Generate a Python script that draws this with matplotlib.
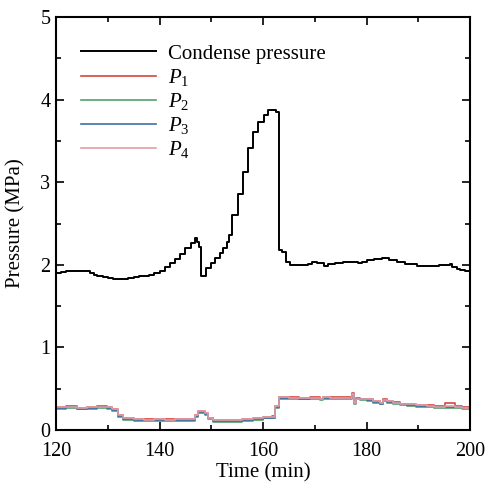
import numpy as np
import matplotlib
matplotlib.use("Agg")
import matplotlib.pyplot as plt

plt.rcParams['font.family'] = ['Liberation Serif', 'DejaVu Serif']
plt.rcParams['mathtext.fontset'] = 'custom'
plt.rcParams['mathtext.rm'] = 'Liberation Serif'
plt.rcParams['mathtext.it'] = 'Liberation Serif:italic'

# condense pressure (stepwise logging)
t_cond = [120, 121, 122, 123, 124, 125, 125.8, 126.5, 127.3, 128, 129, 130, 131, 132, 133,
          134, 135, 136, 137, 138, 139, 140, 141, 142, 143, 144, 145, 146, 146.8, 147.2,
          147.6, 148, 149, 150, 150.8, 151.6, 152.3, 153, 153.5, 154, 155.2, 156.2, 157,
          158.1, 159.1, 160.1, 161, 162, 162.6, 163, 163.7, 164.4, 165.2, 167.8, 168.6,
          169.4, 170.4, 171.7, 172.6, 174, 175.5, 176.8, 178.4, 179.2, 180, 181.5, 182.9,
          184.3, 185.8, 187.5, 189.7, 192, 194, 196.1, 196.6, 197.4, 198.1, 199, 200]
p_cond = [1.90, 1.91, 1.92, 1.93, 1.93, 1.93, 1.92, 1.90, 1.88, 1.87, 1.85, 1.84, 1.83, 1.83, 1.83,
          1.84, 1.85, 1.86, 1.87, 1.88, 1.90, 1.93, 1.97, 2.02, 2.07, 2.13, 2.20, 2.26, 2.33, 2.28,
          2.22, 1.86, 1.96, 2.02, 2.08, 2.14, 2.20, 2.28, 2.36, 2.60, 2.86, 3.13, 3.41,
          3.61, 3.73, 3.81, 3.87, 3.88, 3.85, 2.18, 2.15, 2.03, 2.00, 2.00, 2.01,
          2.03, 2.02, 1.99, 2.01, 2.02, 2.03, 2.04, 2.02, 2.04, 2.06, 2.07, 2.08,
          2.06, 2.03, 2.01, 1.99, 1.99, 2.00, 2.01, 1.97, 1.95, 1.94, 1.92, 1.92]

# P1..P4
t_p = [120, 122, 124, 126, 128, 129.8, 130.8, 132, 133, 135, 137, 139, 141, 143, 145,
       146.9, 147.4, 148.8, 149.4, 150.4, 152, 154, 156, 158, 160, 161.7, 162.3, 163, 165,
       167, 169, 171, 171.5, 173, 175, 177.1, 177.5, 178, 178.7, 180, 181.3, 182.6, 183.2,
       183.9, 185.2, 186.5, 187.8, 189.5, 191.6, 193, 194.2, 195.2, 197.1, 198.5, 200]
p1 = [0.28, 0.29, 0.27, 0.28, 0.29, 0.28, 0.25, 0.18, 0.14, 0.13, 0.13, 0.13, 0.13, 0.13, 0.13,
      0.18, 0.23, 0.20, 0.15, 0.12, 0.12, 0.12, 0.13, 0.14, 0.16, 0.17, 0.29, 0.40, 0.40,
      0.39, 0.40, 0.38, 0.40, 0.40, 0.40, 0.45, 0.34, 0.39, 0.38, 0.37, 0.35, 0.33, 0.37,
      0.35, 0.34, 0.32, 0.31, 0.30, 0.30, 0.29, 0.29, 0.33, 0.29, 0.28, 0.28]
p2 = [0.26, 0.27, 0.25, 0.26, 0.27, 0.26, 0.23, 0.16, 0.12, 0.11, 0.11, 0.11, 0.11, 0.11, 0.11,
      0.16, 0.21, 0.18, 0.13, 0.10, 0.10, 0.10, 0.11, 0.12, 0.14, 0.14, 0.27, 0.38, 0.38,
      0.37, 0.38, 0.36, 0.38, 0.38, 0.38, 0.42, 0.32, 0.37, 0.36, 0.35, 0.33, 0.31, 0.35,
      0.33, 0.32, 0.30, 0.29, 0.28, 0.28, 0.27, 0.27, 0.27, 0.27, 0.26, 0.26]
p3 = [0.27, 0.28, 0.26, 0.27, 0.28, 0.27, 0.24, 0.17, 0.13, 0.12, 0.12, 0.12, 0.12, 0.12, 0.12,
      0.17, 0.22, 0.19, 0.14, 0.11, 0.11, 0.11, 0.12, 0.13, 0.15, 0.15, 0.28, 0.39, 0.39,
      0.38, 0.39, 0.37, 0.39, 0.39, 0.39, 0.43, 0.33, 0.38, 0.37, 0.36, 0.34, 0.32, 0.36,
      0.34, 0.33, 0.31, 0.30, 0.29, 0.29, 0.28, 0.28, 0.28, 0.28, 0.27, 0.27]
p4 = [0.28, 0.28, 0.27, 0.28, 0.28, 0.28, 0.25, 0.18, 0.14, 0.13, 0.12, 0.13, 0.12, 0.13, 0.13,
      0.18, 0.23, 0.20, 0.15, 0.12, 0.12, 0.12, 0.13, 0.14, 0.16, 0.16, 0.29, 0.40, 0.39,
      0.39, 0.39, 0.37, 0.40, 0.39, 0.39, 0.44, 0.33, 0.38, 0.38, 0.37, 0.35, 0.33, 0.36,
      0.35, 0.33, 0.32, 0.31, 0.30, 0.29, 0.28, 0.28, 0.29, 0.28, 0.27, 0.27]

labels = ['Condense pressure', '$P_1$', '$P_2$', '$P_3$', '$P_4$']
colors = ['#d2473c', '#55a070', '#3e6fa6', '#e49ca6']

fig = plt.figure(figsize=(4.88, 4.84), dpi=100)
ax = fig.add_axes([0.1148, 0.1116, 0.8484, 0.853])

ax.plot(t_cond, p_cond, color='black', lw=1.4, drawstyle='steps-post', label=labels[0])
for ser, c, lab in zip([p1, p2, p3, p4], colors, labels[1:]):
    ax.plot(t_p, ser, color=c, lw=1.2, drawstyle='steps-post', label=lab)

ax.set_xlim(120, 200)
ax.set_ylim(0, 5)
ax.set_xticks([120, 140, 160, 180, 200])
ax.set_xticks([130, 150, 170, 190], minor=True)
ax.set_yticks([0, 1, 2, 3, 4, 5])
ax.set_yticks([0.5, 1.5, 2.5, 3.5, 4.5], minor=True)
ax.tick_params(which='both', direction='in', top=True, right=True, width=1.2, labelsize=14.5)
ax.tick_params(axis='x', pad=9)
ax.tick_params(axis='y', pad=4)
ax.tick_params(which='major', length=5.8)
ax.tick_params(which='minor', length=3.6)
for sp in ax.spines.values():
    sp.set_linewidth(1.5)

ax.set_xlabel('Time (min)', fontsize=15, labelpad=1)
ax.set_ylabel('Pressure (MPa)', fontsize=15, labelpad=11)

ax.legend(loc='upper left', bbox_to_anchor=(0.02, 0.975), frameon=False, fontsize=15,
          handlelength=3.6, handletextpad=0.6, labelspacing=0.15, borderpad=0.3)

fig.savefig('out.png', dpi=100)
